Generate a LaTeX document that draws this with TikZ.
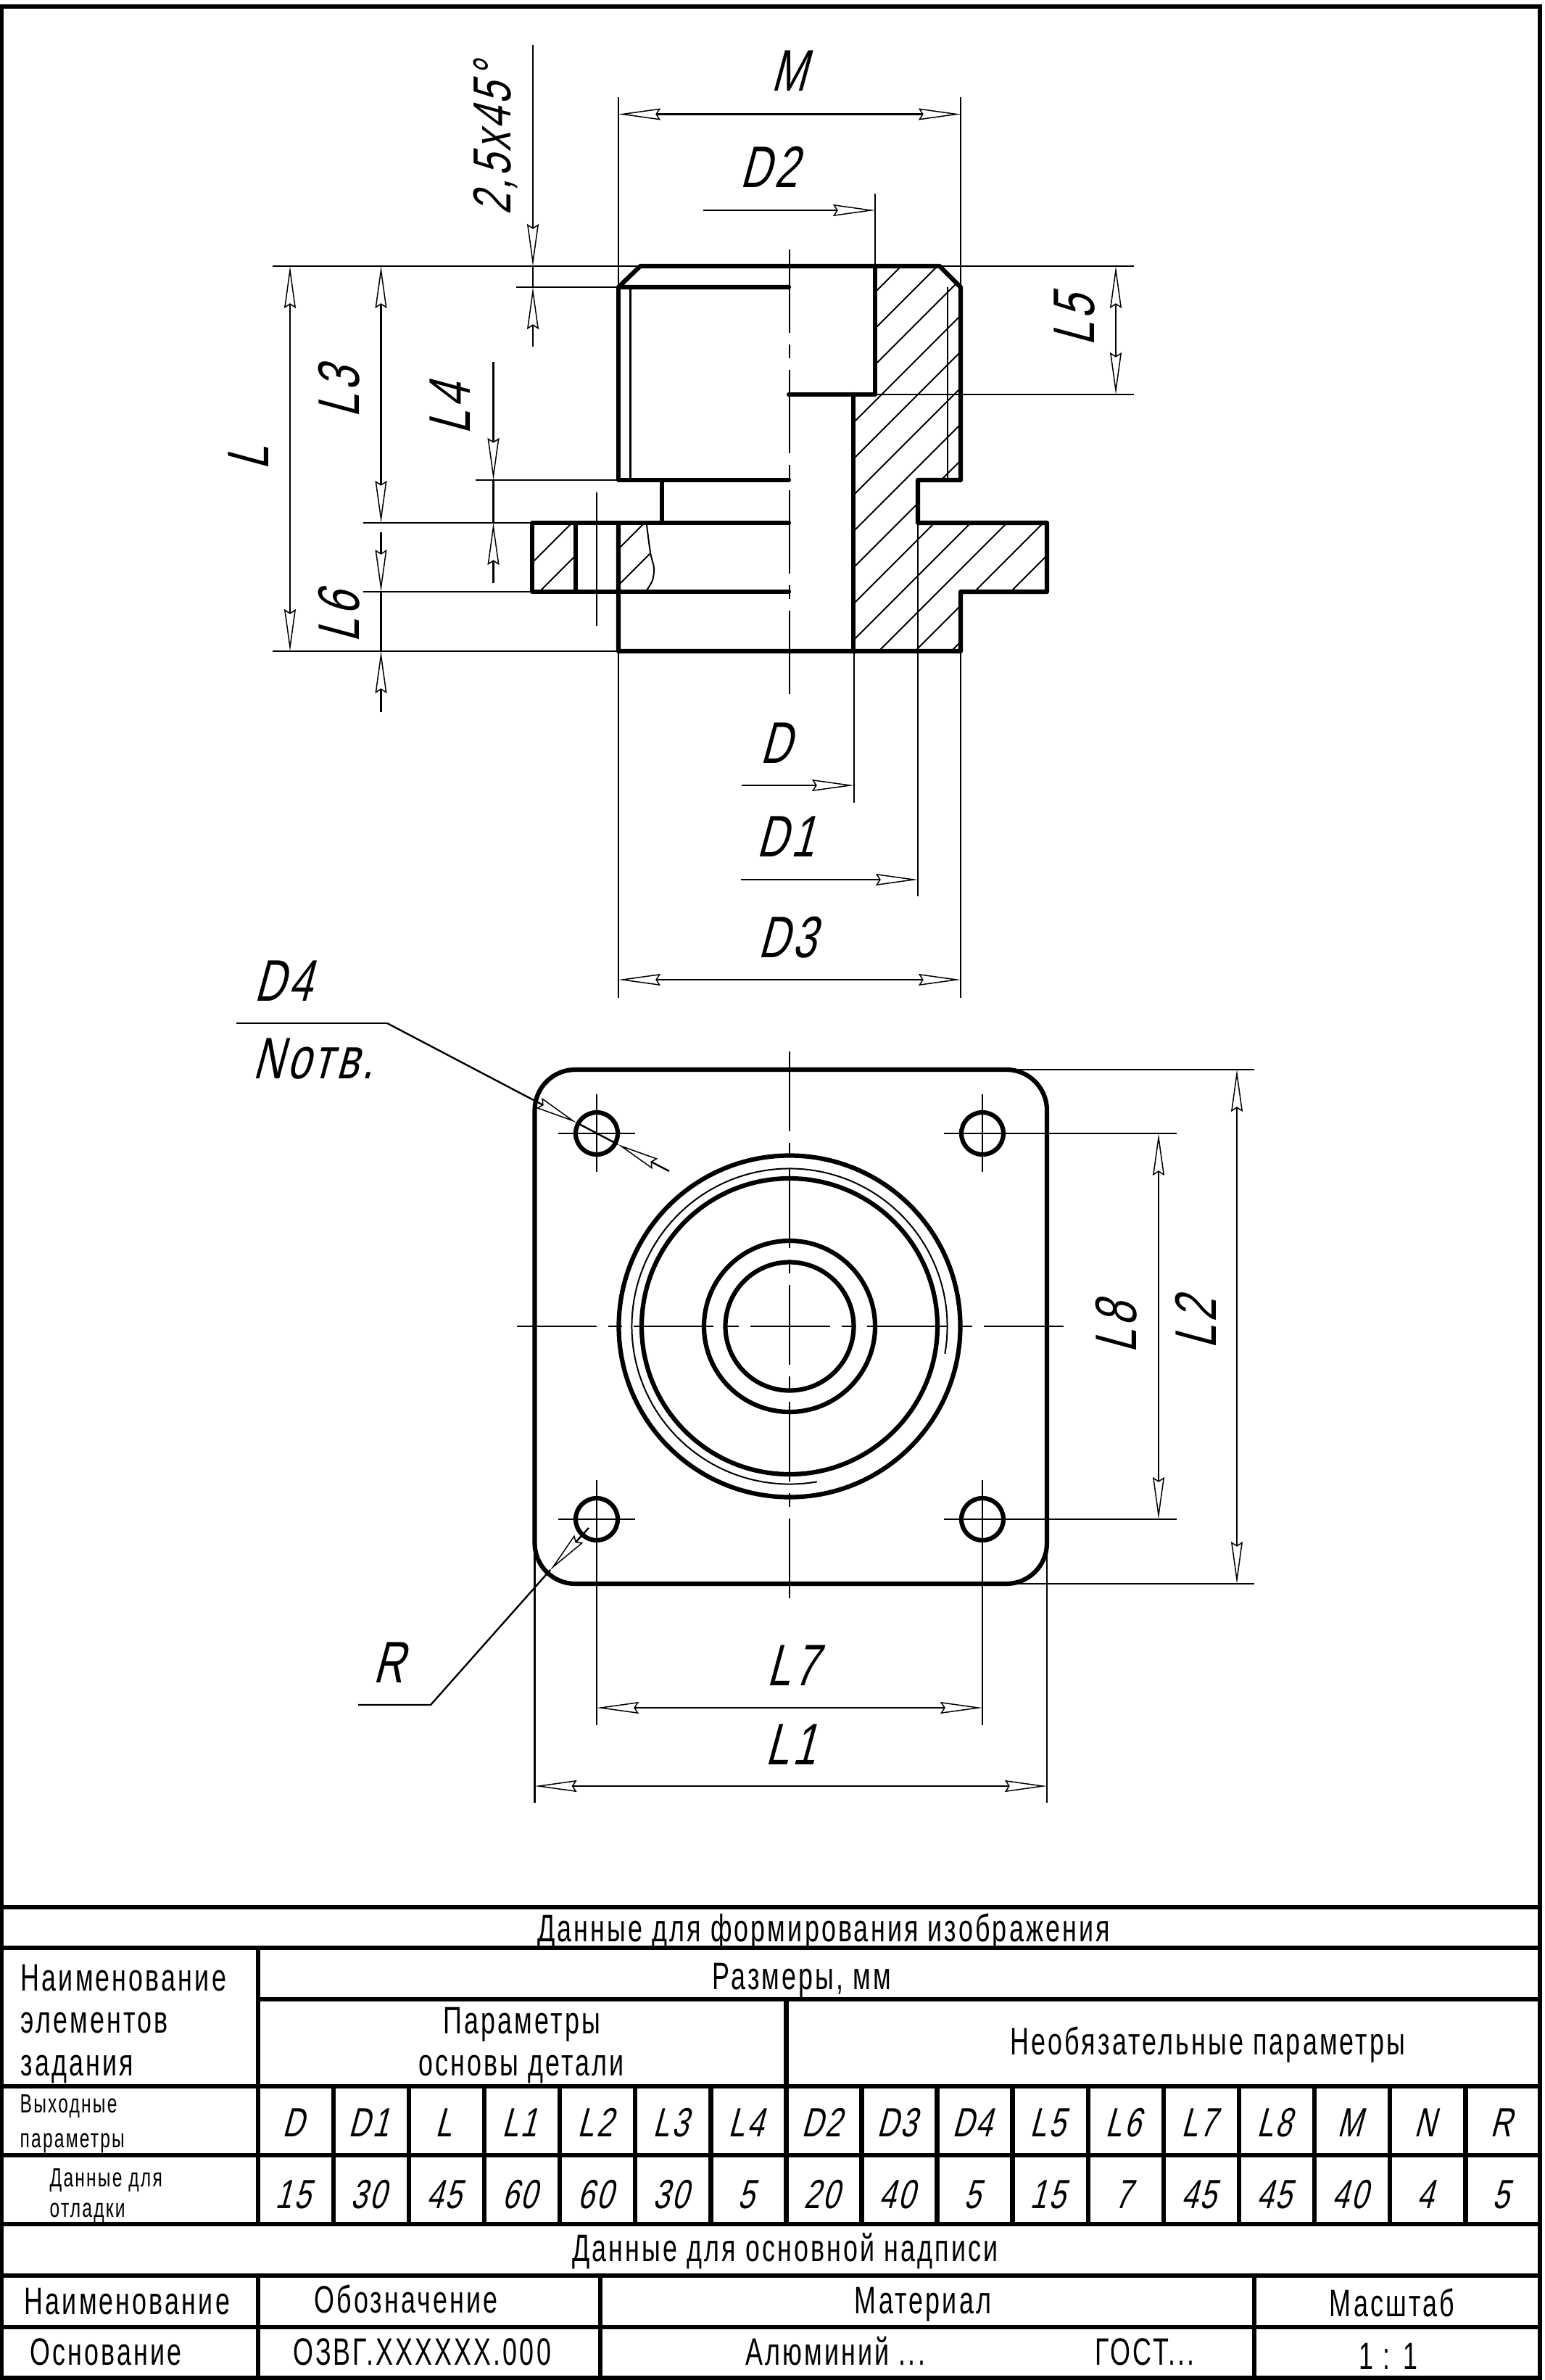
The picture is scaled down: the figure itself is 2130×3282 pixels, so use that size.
\documentclass[tikz,border=0pt]{standalone}
\usepackage{fontspec}
\usetikzlibrary{arrows.meta}
\newfontfamily\gostup[FakeStretch=0.68,LetterSpace=6]{Liberation Sans}
\newfontfamily\gostit[FakeStretch=0.72,FakeSlant=0.27,LetterSpace=6]{Liberation Sans}
\tikzset{
  partline/.style={line width=6.2*0.1mm,line cap=round,line join=round},
  thinline/.style={line width=2.4*0.1mm},
  hatchline/.style={line width=2*0.1mm},
  frameline/.style={line width=6.5*0.1mm},
  axisline/.style={thinline,dash pattern=on 11mm off 1.6mm on 1.9mm off 1.6mm},
  axisside/.style={thinline,dash pattern=on 11.5mm off 1.6mm on 1.9mm off 1.6mm},
  dimtip/.tip={Stealth[open,length=5.8mm,width=1.6mm,inset=0.5mm,line width=0.15mm]},
  dimboth/.style={thinline,{dimtip}-{dimtip}},
  dimend/.style={thinline,-{dimtip}},
  dimlabel/.style={font=\gostit\fontsize{23pt}{23pt}\selectfont,inner sep=0pt,anchor=base},
  dimlabelv/.style={dimlabel,rotate=90},
  tabtext/.style={font=\gostup\fontsize{15pt}{15pt}\selectfont,inner sep=0pt,anchor=base},
  tableft/.style={tabtext,anchor=base west},
  tabsmall/.style={tableft,font=\gostup\fontsize{10.3pt}{10.3pt}\selectfont},
  tabital/.style={font=\gostit\fontsize{16pt}{16pt}\selectfont,inner sep=0pt,anchor=base},
}
\begin{document}
\begin{tikzpicture}[x=0.1mm,y=-0.1mm]
\path[use as bounding box,fill=white] (0,0) rectangle (2130,3282);
\draw[frameline] (2,9) rectangle (2124,3279);
% side view
\begin{scope}
\clip (734,721) rectangle (794,816)
      (853,721) -- (892,724) -- (897,762) -- (902,783) -- (900,800) -- (893,816) -- (853,816) -- cycle
      (1207,367) -- (1296,367) -- (1325,396) -- (1325,662) -- (1266,662) -- (1266,721) -- (1444,721)
      -- (1444,816) -- (1325,816) -- (1325,898) -- (1177,898) -- (1177,544) -- (1207,544) -- cycle;
\foreach \c in {1510,1560,...,2260}
  \draw[hatchline] (\c-300,300) -- (\c-1000,1000);
\end{scope}
\draw[partline] (1088,396) -- (853,396) -- (883,367) -- (1296,367) -- (1325,396) -- (1325,662) -- (1266,662)
  -- (1266,721) -- (1444,721) -- (1444,816) -- (1325,816) -- (1325,898) -- (853,898) -- (853,721);
\draw[partline] (853,396) -- (853,662) -- (1088,662);
\draw[partline] (1088,721) -- (734,721) -- (734,816) -- (1088,816);
\draw[partline] (794,721) -- (794,816);
\draw[partline] (913,662) -- (913,721);
\draw[partline] (1207,367) -- (1207,544) -- (1088,544);
\draw[partline] (1177,544) -- (1177,898);
\draw[thinline] (869.5,396) -- (869.5,662);
\draw[thinline] (1307,396) -- (1307,662);
\draw[hatchline] plot[smooth] coordinates {(892,724) (897,762) (902,783) (900,800) (892,814)};
\draw[axisside] (1089,344) -- (1089,957);
\draw[thinline] (823,679) -- (823,863);
% extension lines
\draw[thinline] (376,367) -- (883,367);
\draw[thinline] (1296,367) -- (1564,367);
\draw[thinline] (712,396) -- (853,396);
\draw[thinline] (1207,544) -- (1564,544);
\draw[thinline] (656,662) -- (853,662);
\foreach \y in {721,816}
  \draw[thinline] (501,\y) -- (734,\y);
\draw[thinline] (376,898) -- (853,898);
\foreach \x in {853,1325}
  \draw[thinline] (\x,134) -- (\x,396);
\foreach \x in {853,1325}
  \draw[thinline] (\x,898) -- (\x,1376);
\draw[thinline] (1207,267) -- (1207,367);
\draw[thinline] (1178,898) -- (1178,1107);
\draw[thinline] (1266,721) -- (1266,1236);
% dimensions
\draw[dimboth] (853,157.5) -- (1325,157.5);
\draw[dimend] (970,290) -- (1207,290);
\draw[dimend] (735,62) -- (735,367);
\draw[dimend] (735,478) -- (735,396);
\draw[thinline] (735,367) -- (735,396);
\draw[dimboth] (400,367) -- (400,898);
\draw[dimboth] (525.5,367) -- (525.5,721);
\draw[dimend] (525.5,734) -- (525.5,816);
\draw[dimend] (525.5,982) -- (525.5,898);
\draw[thinline] (525.5,816) -- (525.5,898);
\draw[dimend] (680.5,499) -- (680.5,662);
\draw[dimend] (680.5,804) -- (680.5,721);
\draw[thinline] (680.5,662) -- (680.5,721);
\draw[dimboth] (1539,367) -- (1539,544);
\draw[dimend] (1023,1083) -- (1178,1083);
\draw[dimend] (1022,1213) -- (1266,1213);
\draw[dimboth] (853,1351) -- (1325,1351);
\node[dimlabel] (lblM) at (1088,126) {M};
\node[dimlabel] (lblDtwo) at (1060,258) {D2};
\node[dimlabelv,font=\gostit\fontsize{21pt}{21pt}\selectfont] (lblCham) at (704,193) {2,5x45°};
\node[dimlabelv] (lblL) at (370,632) {L};
\node[dimlabelv] (lblLthree) at (495,542) {L3};
\node[dimlabelv] (lblLsix) at (495,852) {L6};
\node[dimlabelv] (lblLfour) at (648,565) {L4};
\node[dimlabelv] (lblLfive) at (1509,443) {L5};
\node[dimlabel] (lblD) at (1070,1052) {D};
\node[dimlabel] (lblDone) at (1083,1181) {D1};
\node[dimlabel] (lblDthree) at (1085,1320) {D3};
% plan view
\draw[partline,rounded corners=5.6mm] (737.5,1475) rectangle (1444,2184);
\foreach \r in {235.5,204,118,88.5}
  \draw[partline] (1089,1829) circle (\r);
\draw[hatchline] plot[domain=80:370,samples=120,variable=\t] ({1089+217.6*cos(\t)},{1829+217.6*sin(\t)});
\foreach \x/\y in {823/1563,1355/1563,823/2095,1355/2095}
  \draw[partline] (\x,\y) circle (29);
\draw[axisline] (713,1829) -- (1468,1829);
\draw[axisline] (1089,1450) -- (1089,2206);
\draw[thinline] (770,1563) -- (876,1563);
\draw[thinline] (770,2095) -- (876,2095);
\draw[thinline] (823,1509) -- (823,1616);
\draw[thinline] (1355,1509) -- (1355,1616);
\foreach \x in {823,1355}
  \draw[thinline] (\x,2041) -- (\x,2379);
\foreach \y in {1563,2095}
  \draw[thinline] (1302,\y) -- (1623,\y);
\foreach \y in {1475,2184}
  \draw[thinline] (1390,\y) -- (1730,\y);
\foreach \x in {737.5,1444}
  \draw[thinline] (\x,2142) -- (\x,2486);
\draw[dimboth] (1598,1563) -- (1598,2095);
\draw[dimboth] (1706,1475) -- (1706,2184);
\draw[dimboth] (823,2355) -- (1355,2355);
\draw[dimboth] (737.5,2463) -- (1444,2463);
\coordinate (shelfD) at (534,1411);
\coordinate (tipDa) at (795,1548);
\coordinate (tipDb) at (852,1578);
\coordinate (endD) at (923,1615);
\draw[thinline] (326,1411) -- (shelfD);
\draw[dimend] (shelfD) -- (tipDa);
\draw[thinline] (tipDa) -- (tipDb);
\draw[dimend] (endD) -- (tipDb);
\coordinate (shelfR) at (594,2351);
\coordinate (tipR) at (759,2165);
\coordinate (endR) at (812,2107);
\draw[thinline] (494,2351) -- (shelfR) -- (tipR);
\draw[dimend] (endR) -- (tipR);
\node[dimlabel,anchor=base west] (lblDfour) at (350,1380) {D4};
\node[dimlabel,anchor=base west] (lblNotv) at (348,1487) {Nотв.};
\node[dimlabel] (lblR) at (536,2320) {R};
\node[dimlabel] (lblLseven) at (1092,2324) {L7};
\node[dimlabel] (lblLone) at (1090,2433) {L1};
\node[dimlabelv] (lblLeight) at (1567,1832) {L8};
\node[dimlabelv] (lblLtwo) at (1677,1826) {L2};
% table
\foreach \y in {2630,2686,2877,2972,3067,3138,3209}
  \draw[frameline] (2,\y) -- (2124,\y);
\draw[frameline] (356,2757) -- (2124,2757);
\draw[frameline] (356,2686) -- (356,3067);
\draw[frameline] (356,3138) -- (356,3279);
\draw[frameline] (1084.5,2757) -- (1084.5,2877);
\foreach \i in {1,...,16}
  \draw[frameline] (355.7+104.1*\i,2877) -- (355.7+104.1*\i,3067);
\draw[frameline] (828,3138) -- (828,3279);
\draw[frameline] (1730,3138) -- (1730,3279);
\node[tabtext] (tabTitle) at (1136,2677) {Данные для формирования изображения};
\node[tabtext] (tabSize) at (1106,2743) {Размеры, мм};
\node[tableft] (tabNameA) at (28,2745) {Наименование};
\node[tableft] (tabNameB) at (28,2803) {элементов};
\node[tableft] (tabNameC) at (28,2862) {задания};
\node[tabtext] (tabBaseA) at (720,2804) {Параметры};
\node[tabtext] (tabBaseB) at (719,2862) {основы детали};
\node[tabtext] (tabOpt) at (1666,2833) {Необязательные параметры};
\node[tabsmall] (tabOutA) at (27,2913) {Выходные};
\node[tabsmall] (tabOutB) at (27,2961) {параметры};
\node[tabsmall] (tabDbgA) at (68,3015) {Данные для};
\node[tabsmall] (tabDbgB) at (68,3057) {отладки};
\foreach \p [count=\i from 0] in {D,D1,L,L1,L2,L3,L4,D2,D3,D4,L5,L6,L7,L8,M,N,R}
  \node[tabital] (par\i) at (404+104.1*\i,2946) {\p};
\foreach \v [count=\i from 0] in {15,30,45,60,60,30,5,20,40,5,15,7,45,45,40,4,5}
  \node[tabital] (val\i) at (404+104.1*\i,3045) {\v};
\node[tabtext] (tabMain) at (1083,3118) {Данные для основной надписи};
\node[tableft] (tabName) at (33,3191) {Наименование};
\node[tabtext] (tabDes) at (560,3189) {Обозначение};
\node[tabtext] (tabMat) at (1273,3190) {Материал};
\node[tabtext] (tabScale) at (1920,3194) {Масштаб};
\node[tableft] (tabBasis) at (41,3261) {Основание};
\node[tabtext] (tabCode) at (582,3261) {ОЗВГ.XXXXXX.000};
\node[tableft] (tabAlu) at (1028,3261) {Алюминий ...};
\node[tableft] (tabGost) at (1510,3261) {ГОСТ...};
\node[tabtext] (tabRatio) at (1915,3267) {1 : 1};
\end{tikzpicture}
\end{document}
